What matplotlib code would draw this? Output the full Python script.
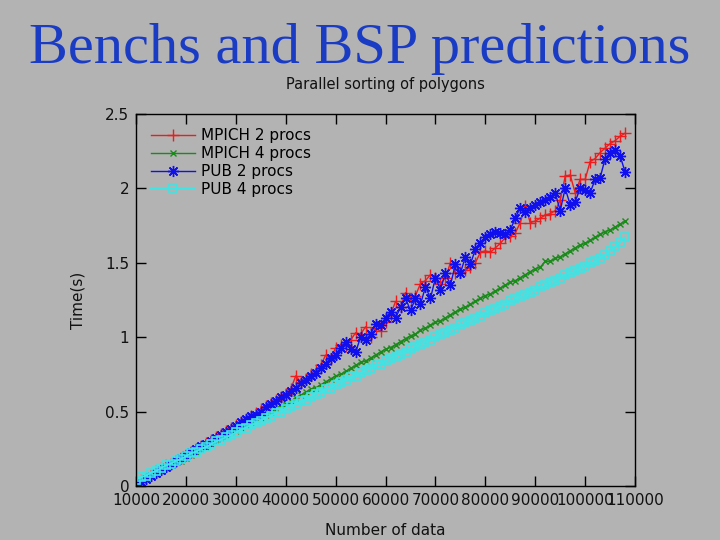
import numpy as np
import matplotlib
matplotlib.use("Agg")
import matplotlib.pyplot as plt

BG = "#b3b3b3"

# number of data: 10000 .. 108000, step 1000
n_data = np.arange(10000, 109000, 1000)

mpich_2 = [
    0.02, 0.04, 0.06, 0.08, 0.10, 0.12, 0.14, 0.15, 0.17, 0.19,
    0.21, 0.23, 0.25, 0.27, 0.29, 0.31, 0.33, 0.35, 0.37, 0.39,
    0.41, 0.43, 0.45, 0.47, 0.49, 0.52, 0.54, 0.56, 0.58, 0.60,
    0.62, 0.65, 0.74, 0.70, 0.72, 0.75, 0.78, 0.81, 0.88, 0.85,
    0.93, 0.95, 0.94, 0.98, 1.03, 1.02, 1.07, 1.00, 1.06, 1.04,
    1.10, 1.15, 1.24, 1.20, 1.30, 1.25, 1.28, 1.36, 1.38, 1.42,
    1.40, 1.36, 1.40, 1.50, 1.43, 1.44, 1.45, 1.47, 1.50, 1.57,
    1.58, 1.57, 1.60, 1.63, 1.67, 1.68, 1.70, 1.77, 1.88, 1.77,
    1.78, 1.80, 1.82, 1.83, 1.85, 1.92, 2.08, 2.09, 1.97, 2.06,
    2.06, 2.18, 2.20, 2.24, 2.27, 2.30, 2.32, 2.35, 2.37,
]

mpich_4 = [
    0.01, 0.03, 0.05, 0.07, 0.08, 0.10, 0.12, 0.14, 0.16, 0.17,
    0.19, 0.21, 0.23, 0.25, 0.26, 0.28, 0.30, 0.32, 0.34, 0.36,
    0.37, 0.39, 0.41, 0.43, 0.45, 0.46, 0.48, 0.50, 0.52, 0.54,
    0.55, 0.57, 0.59, 0.61, 0.63, 0.65, 0.66, 0.68, 0.70, 0.72,
    0.74, 0.75, 0.77, 0.79, 0.81, 0.83, 0.84, 0.86, 0.88, 0.90,
    0.92, 0.93, 0.95, 0.97, 0.99, 1.01, 1.02, 1.05, 1.06, 1.08,
    1.10, 1.11, 1.13, 1.15, 1.17, 1.19, 1.20, 1.22, 1.24, 1.26,
    1.28, 1.29, 1.31, 1.33, 1.35, 1.37, 1.38, 1.40, 1.42, 1.44,
    1.46, 1.47, 1.51, 1.51, 1.53, 1.54, 1.56, 1.58, 1.60, 1.62,
    1.63, 1.65, 1.67, 1.69, 1.71, 1.72, 1.74, 1.76, 1.78,
]

pub_2 = [
    0.01, 0.03, 0.05, 0.07, 0.09, 0.11, 0.13, 0.15, 0.17, 0.19,
    0.21, 0.23, 0.25, 0.27, 0.28, 0.30, 0.32, 0.34, 0.36, 0.38,
    0.40, 0.43, 0.45, 0.47, 0.48, 0.50, 0.53, 0.55, 0.57, 0.60,
    0.61, 0.64, 0.66, 0.69, 0.71, 0.74, 0.76, 0.79, 0.82, 0.86,
    0.88, 0.93, 0.97, 0.92, 0.90, 1.00, 0.98, 1.02, 1.09, 1.08,
    1.13, 1.17, 1.13, 1.20, 1.26, 1.18, 1.26, 1.22, 1.34, 1.26,
    1.40, 1.32, 1.43, 1.35, 1.49, 1.43, 1.54, 1.49, 1.59, 1.63,
    1.67, 1.69, 1.71, 1.70, 1.69, 1.72, 1.80, 1.87, 1.84, 1.87,
    1.89, 1.91, 1.92, 1.94, 1.97, 1.85, 2.00, 1.89, 1.91, 2.00,
    1.99, 1.97, 2.06, 2.07, 2.20, 2.24, 2.26, 2.22, 2.11,
]

pub_4 = [
    0.04, 0.06, 0.07, 0.09, 0.10, 0.12, 0.14, 0.15, 0.17, 0.18,
    0.20, 0.22, 0.23, 0.25, 0.26, 0.28, 0.30, 0.31, 0.33, 0.34,
    0.36, 0.38, 0.39, 0.41, 0.42, 0.44, 0.46, 0.47, 0.49, 0.50,
    0.52, 0.54, 0.55, 0.57, 0.58, 0.60, 0.62, 0.63, 0.65, 0.66,
    0.68, 0.70, 0.71, 0.73, 0.74, 0.76, 0.78, 0.79, 0.81, 0.82,
    0.84, 0.86, 0.87, 0.89, 0.90, 0.92, 0.94, 0.95, 0.97, 0.98,
    1.00, 1.02, 1.03, 1.05, 1.06, 1.08, 1.10, 1.11, 1.13, 1.14,
    1.16, 1.18, 1.19, 1.21, 1.22, 1.24, 1.26, 1.27, 1.29, 1.30,
    1.32, 1.34, 1.35, 1.37, 1.38, 1.40, 1.42, 1.43, 1.45, 1.46,
    1.48, 1.50, 1.51, 1.53, 1.55, 1.58, 1.61, 1.64, 1.67,
]

x_ticks = np.arange(10000, 110001, 10000)
y_ticks = [0, 0.5, 1, 1.5, 2, 2.5]
y_tick_labels = ["0", "0.5", "1", "1.5", "2", "2.5"]

plt.rcParams["font.family"] = ["DejaVu Sans"]

fig = plt.figure(figsize=(7.2, 5.4), dpi=100, facecolor=BG)
ax = fig.add_axes([0.189, 0.1, 0.693, 0.689])
ax.set_facecolor(BG)

ax.plot(n_data, mpich_2, color="#ee1c1c", lw=1, marker="+", ms=9, mew=1,
        label="MPICH 2 procs")
ax.plot(n_data, mpich_4, color="#1a8a1a", lw=1, marker="x", ms=5, mew=1,
        label="MPICH 4 procs")
ax.plot(n_data, pub_2, color="#1010ee", lw=1, marker=(8, 2, 0), ms=8, mew=1,
        label="PUB 2 procs")
ax.plot(n_data, pub_4, color="#40e4e4", lw=1.5, marker="s", ms=6, mew=1.2,
        fillstyle="none", label="PUB 4 procs")

ax.set_xlim(10000, 110000)
ax.set_ylim(0, 2.5)
ax.set_xticks(x_ticks)
ax.set_xticklabels([str(v) for v in x_ticks], fontsize=11, color="#111111")
ax.set_yticks(y_ticks)
ax.set_yticklabels(y_tick_labels, fontsize=11, color="#111111")
ax.tick_params(direction="in", length=7, width=1, top=True, right=True, pad=5)
for sp in ax.spines.values():
    sp.set_color("black")
    sp.set_linewidth(1)

ax.set_xlabel("Number of data", fontsize=11, color="#111111", labelpad=11)
ax.set_ylabel("Time(s)", fontsize=11, color="#111111", labelpad=14)

ax.legend(loc="upper left", frameon=False, fontsize=11, numpoints=1,
          handlelength=2.9, handletextpad=0.4, labelspacing=0.18,
          borderaxespad=0.55, bbox_to_anchor=(0.0, 1.0))

fig.text(0.535, 0.843, "Parallel sorting of polygons", ha="center", va="center",
         fontsize=10.5, color="#111111")
fig.text(0.5, 0.883, "Benchs and BSP predictions", ha="center", va="baseline",
         fontsize=42, color="#1a3cc4", family=["Liberation Serif", "DejaVu Serif"])

fig.savefig("out.png", dpi=100, facecolor=BG)
